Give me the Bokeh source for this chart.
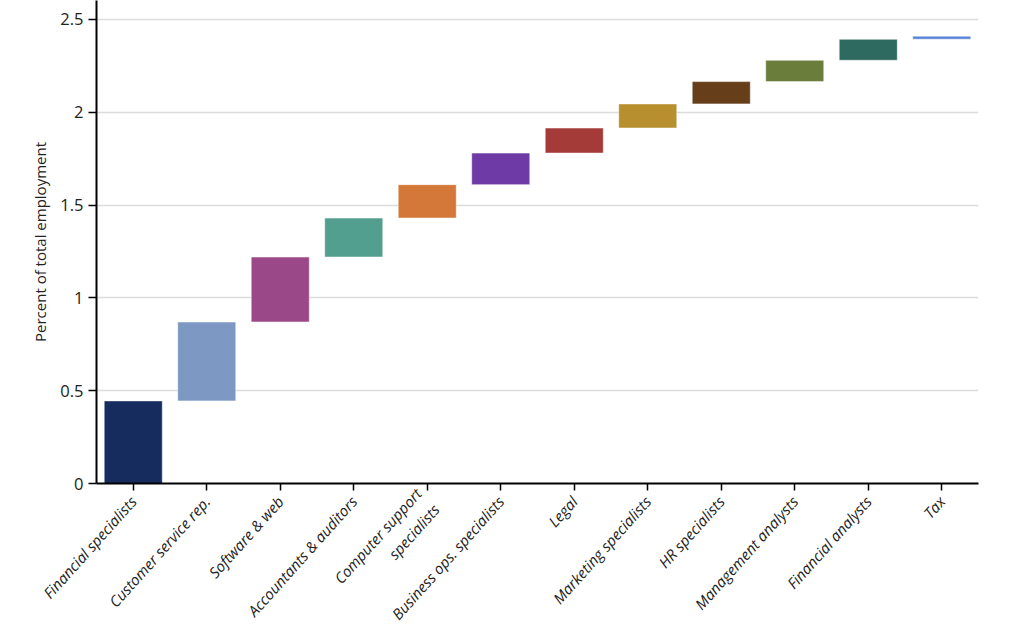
from bokeh.plotting import figure
from bokeh.models import ColumnDataSource, Range1d, FixedTicker
from bokeh.embed import file_html
from bokeh.resources import INLINE

categories = ["Financial specialists", "Customer service rep.", "Software & web",
              "Accountants & auditors", "Computer support\nspecialists",
              "Business ops. specialists", "Legal", "Marketing specialists",
              "HR specialists", "Management analysts", "Financial analysts", "Tax"]
increments = [0.445, 0.425, 0.35, 0.21, 0.18, 0.17, 0.135, 0.13, 0.12, 0.115, 0.113, 0.017]
colors = ["#162c5e", "#7d98c2", "#9a4887", "#529f8f", "#d4783a", "#6e3ba6",
          "#a43b38", "#b88f2f", "#663f1a", "#6a7d3a", "#2f6a60", "#5b86d8"]
y_ticks = [0, 0.5, 1, 1.5, 2, 2.5]

bottoms = []
tops = []
run = 0.0
for v in increments:
    bottoms.append(run)
    run += v
    tops.append(run)

src = ColumnDataSource(dict(cat=categories, bottom=bottoms, top=tops, color=colors))

FONT = "Open Sans"
p = figure(x_range=categories, y_range=Range1d(0, 2.602),
           frame_width=882, frame_height=483,
           min_border_left=96, min_border_top=0, min_border_right=30, min_border_bottom=130,
           output_backend="svg", toolbar_location=None)

p.vbar(x="cat", bottom="bottom", top="top", width=0.79, fill_color="color",
       line_color="white", line_alpha=0.5, line_width=1, source=src)

p.outline_line_color = None
p.xgrid.grid_line_color = None
p.ygrid.grid_line_color = "#dcdcdc"
p.ygrid.grid_line_width = 1.5
p.ygrid.ticker = FixedTicker(ticks=y_ticks[1:])

p.yaxis.ticker = FixedTicker(ticks=y_ticks)
p.yaxis.major_label_overrides = {0: "0", 0.5: "0.5", 1: "1", 1.5: "1.5", 2: "2", 2.5: "2.5"}
p.yaxis.axis_label = "Percent of total employment"
p.yaxis.axis_label_text_font = FONT
p.yaxis.axis_label_text_font_style = "normal"
p.yaxis.axis_label_text_font_size = "15px"
p.yaxis.axis_label_text_color = "#222222"
p.yaxis.axis_label_standoff = 7
p.yaxis.major_label_text_font = FONT
p.yaxis.major_label_text_font_size = "16.5px"
p.yaxis.major_label_text_color = "#222222"
p.yaxis.minor_tick_line_color = None
p.yaxis.major_tick_out = 8
p.yaxis.major_tick_in = 0

for ax in (p.xaxis[0], p.yaxis[0]):
    ax.axis_line_color = "black"
    ax.axis_line_width = 2
    ax.major_tick_line_color = "black"
    ax.major_tick_line_width = 1.5

p.xaxis.major_label_orientation = 0.84
p.xaxis.major_label_text_font = FONT
p.xaxis.major_label_text_font_style = "italic"
p.xaxis.major_label_text_font_size = "15px"
p.xaxis.major_label_text_color = "#222222"
p.xaxis.major_tick_out = 7
p.xaxis.major_tick_in = 0
p.xaxis.major_label_standoff = 8

open("out.html", "w").write(file_html(p, INLINE))
